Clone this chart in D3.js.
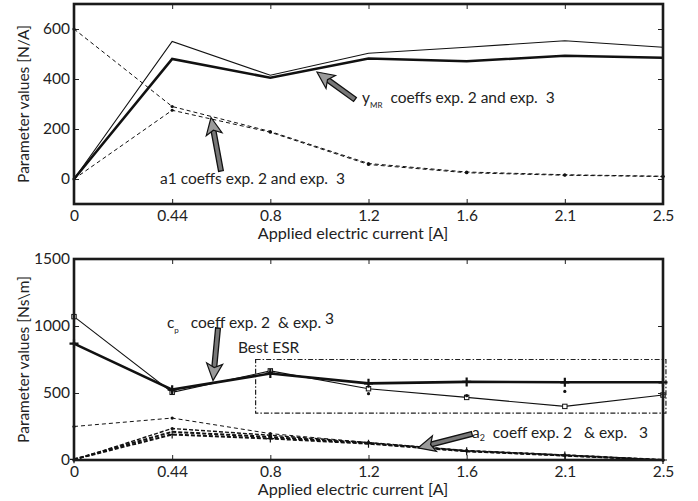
<!DOCTYPE html>
<html>
<head>
<meta charset="utf-8">
<script src="https://cdn.jsdelivr.net/npm/d3@7"></script>
<style>
  html, body { margin: 0; padding: 0; background: #fff; }
  svg { display: block; font-family: Lato, "Open Sans", sans-serif; }
  text { white-space: pre; }
</style>
</head>
<body>
<svg id="chart" width="698" height="501"></svg>
<script>
// Applied current levels (evenly spaced categories on the x axis)
const currents = ["0", "0.44", "0.8", "1.2", "1.6", "2.1", "2.5"];

// Upper panel: MR force coefficient and a1 coefficient [N/A]
const yMrExp2 = [0, 550, 415, 503, 527, 553, 527];
const yMrExp3 = [0, 480, 405, 482, 471, 493, 485];
const a1Exp2 = [600, 290, 190, 62, 28, 17, 11];
const a1Exp3 = [0, 275, 187, 58, 25, 15, 10];
const topTicks = [0, 200, 400, 600];

// Lower panel: damping coefficient c_p and a2 coefficient [Ns\m]
const cpExp2 = [1070, 505, 665, 532, 467, 400, 485];
const cpExp3 = [868, 525, 645, 572, 583, 580, 580];
const cpPoints = [870, 515, 655, 495, 480, 512, 490];
const a2Exp2 = [250, 313, 197, 130, 68, 35, 0];
const a2Exp3a = [5, 190, 160, 122, 65, 33, 0];
const a2Exp3b = [5, 210, 172, 126, 67, 35, 0];
const a2Exp3c = [0, 235, 185, 130, 70, 38, 0];
const bottomTicks = [0, 500, 1000, 1500];

// "Best ESR" region: category-index span and value span
const esrIndexSpan = [1.85, 6.03];
const esrValueSpan = [350, 750];

const svg = d3.select("#chart");
const left = 74, right = 663;
const labelSize = 15.5, noteSize = 15.5;

const x = d3.scalePoint().domain(currents).range([left, right]);
const xi = d3.scaleLinear().domain([0, currents.length - 1]).range([left, right]);

function panel(top, bottom, domain, ticks, yTitle) {
  const y = d3.scaleLinear().domain(domain).range([bottom, top]);
  const g = svg.append("g");
  const tick = 5;

  g.append("g").attr("transform", `translate(0,${bottom})`)
    .call(d3.axisBottom(x).tickSizeInner(-tick).tickSizeOuter(0).tickPadding(6))
    .call(a => a.select(".domain").remove())
    .call(a => a.selectAll("text").attr("font-size", labelSize).attr("fill", "#222").attr("font-family", "Lato"));
  g.append("g").attr("transform", `translate(0,${top})`)
    .call(d3.axisTop(x).tickSizeInner(-tick).tickSizeOuter(0).tickFormat(""))
    .call(a => a.select(".domain").remove());
  g.append("g").attr("transform", `translate(${left},0)`)
    .call(d3.axisLeft(y).tickValues(ticks).tickFormat(d3.format("d"))
      .tickSizeInner(-tick).tickSizeOuter(0).tickPadding(4))
    .call(a => a.select(".domain").remove())
    .call(a => a.selectAll("text").attr("font-size", labelSize).attr("fill", "#222").attr("font-family", "Lato"));
  g.append("g").attr("transform", `translate(${right},0)`)
    .call(d3.axisRight(y).tickValues(ticks).tickSizeInner(-tick).tickSizeOuter(0).tickFormat(""))
    .call(a => a.select(".domain").remove());
  g.selectAll(".tick line").attr("stroke", "#222").attr("stroke-width", 1);

  g.append("text")
    .attr("transform", `translate(29,${(top + bottom) / 2}) rotate(-90)`)
    .attr("text-anchor", "middle").attr("font-size", 15.5).attr("fill", "#222")
    .text(yTitle);
  g.append("text")
    .attr("x", 353).attr("y", bottom + 35)
    .attr("text-anchor", "middle").attr("font-size", 16.2).attr("fill", "#222")
    .text("Applied electric current [A]");
  return { y, g };
}

function frame(top, bottom) {
  svg.append("rect")
    .attr("x", left).attr("y", top).attr("width", right - left).attr("height", bottom - top)
    .attr("fill", "none").attr("stroke", "#1a1a1a").attr("stroke-width", 2.6);
}

function series(g, y, values, opts) {
  const line = d3.line().x((d, i) => x(currents[i])).y(d => y(d));
  g.append("path").datum(values)
    .attr("d", line).attr("fill", "none")
    .attr("stroke", "#111").attr("stroke-width", opts.width)
    .attr("stroke-dasharray", opts.dash || null)
    .attr("stroke-linejoin", "miter");
  if (opts.marker === "dot") {
    g.selectAll(null).data(values).join("circle")
      .attr("cx", (d, i) => x(currents[i])).attr("cy", d => y(d)).attr("r", 1.6).attr("fill", "#111");
  } else if (opts.marker === "square") {
    g.selectAll(null).data(values).join("rect")
      .attr("x", (d, i) => x(currents[i]) - 2.2).attr("y", d => y(d) - 2.2)
      .attr("width", 4.4).attr("height", 4.4).attr("fill", "#fff").attr("stroke", "#111").attr("stroke-width", 1);
  } else if (opts.marker === "plus") {
    const s = opts.size || 4;
    g.selectAll(null).data(values).join("path")
      .attr("d", (d, i) => {
        const cx = x(currents[i]), cy = y(d);
        return `M${cx - s},${cy}H${cx + s}M${cx},${cy - s}V${cy + s}`;
      })
      .attr("stroke", "#111").attr("stroke-width", opts.markerWidth || 2);
  }
}

// Outlined annotation arrow from tail to tip
function arrow(g, x1, y1, x2, y2) {
  const dx = x2 - x1, dy = y2 - y1, len = Math.hypot(dx, dy);
  const ux = dx / len, uy = dy / len, nx = -uy, ny = ux;
  const headLen = 17, headHalf = 8, notch = 4, shaftHalf = 2.4;
  const bx = x2 - ux * headLen, by = y2 - uy * headLen;
  const nxp = x2 - ux * (headLen - notch), nyp = y2 - uy * (headLen - notch);
  g.append("path")
    .attr("d", `M${x1 + nx * shaftHalf},${y1 + ny * shaftHalf}L${nxp + nx * shaftHalf},${nyp + ny * shaftHalf}` +
      `L${nxp - nx * shaftHalf},${nyp - ny * shaftHalf}L${x1 - nx * shaftHalf},${y1 - ny * shaftHalf}Z`)
    .attr("fill", "#777").attr("stroke", "#111").attr("stroke-width", 1.3);
  g.append("path")
    .attr("d", `M${x2},${y2}L${bx + nx * headHalf},${by + ny * headHalf}L${nxp},${nyp}` +
      `L${bx - nx * headHalf},${by - ny * headHalf}Z`)
    .attr("fill", "#9a9a9a").attr("stroke", "#111").attr("stroke-width", 1.2).attr("stroke-linejoin", "miter");
}

// ---------- Upper panel ----------
const P1 = panel(4, 204, [-100, 700], topTicks, "Parameter values [N/A]");
series(P1.g, P1.y, a1Exp2, { width: 1, dash: "4,3", marker: "dot" });
series(P1.g, P1.y, a1Exp3, { width: 1, dash: "4,3", marker: "dot" });
series(P1.g, P1.y, yMrExp2, { width: 1.1 });
series(P1.g, P1.y, yMrExp3, { width: 2.6 });
frame(4, 204);

arrow(P1.g, xi(2.862), P1.y(318), xi(2.475), P1.y(428));
const t1 = P1.g.append("text").attr("x", xi(2.934)).attr("y", P1.y(306)).attr("font-size", noteSize).attr("fill", "#222");
t1.append("tspan").text("y");
t1.append("tspan").attr("font-size", 8).attr("dy", 5).text("MR");
t1.append("tspan").attr("dy", -5).text("  coeffs exp. 2 and exp.  3");

arrow(P1.g, xi(1.497), P1.y(32), xi(1.396), P1.y(246));
P1.g.append("text").attr("x", xi(0.876)).attr("y", P1.y(-20)).attr("font-size", noteSize).attr("fill", "#222")
  .text("a1 coeffs exp. 2 and exp.  3");

// ---------- Lower panel ----------
const P2 = panel(259, 460, [0, 1500], bottomTicks, "Parameter values [Ns\\m]");

P2.g.append("rect")
  .attr("x", xi(esrIndexSpan[0])).attr("y", P2.y(esrValueSpan[1]))
  .attr("width", xi(esrIndexSpan[1]) - xi(esrIndexSpan[0]))
  .attr("height", P2.y(esrValueSpan[0]) - P2.y(esrValueSpan[1]))
  .attr("fill", "none").attr("stroke", "#222").attr("stroke-width", 1.2)
  .attr("stroke-dasharray", "5,2,1.5,2");

series(P2.g, P2.y, a2Exp2, { width: 1, dash: "4,3", marker: "dot" });
series(P2.g, P2.y, a2Exp3a, { width: 2, dash: "4,2", marker: "plus", size: 4, markerWidth: 1.2 });
series(P2.g, P2.y, a2Exp3b, { width: 2, dash: "4,2" });
series(P2.g, P2.y, a2Exp3c, { width: 1.4, dash: "4,2", marker: "dot" });
series(P2.g, P2.y, cpExp2, { width: 1.1, marker: "square" });
series(P2.g, P2.y, cpExp3, { width: 2.6, marker: "plus", size: 4.5, markerWidth: 2.2 });
P2.g.selectAll(null).data(cpPoints).join("circle")
  .attr("cx", (d, i) => x(currents[i])).attr("cy", d => P2.y(d)).attr("r", 1.6).attr("fill", "#111");
frame(259, 460);

arrow(P2.g, xi(1.467), P2.y(985), xi(1.416), P2.y(593));
const t2 = P2.g.append("text").attr("x", xi(0.947)).attr("y", P2.y(985)).attr("font-size", noteSize).attr("fill", "#222");
t2.append("tspan").text("c");
t2.append("tspan").attr("font-size", 8).attr("dy", 5).text("p");
t2.append("tspan").attr("dy", -5).text("   coeff exp. 2  & exp. ");
t2.append("tspan").attr("dy", -4).text("3");
P2.g.append("text").attr("x", xi(1.67)).attr("y", P2.y(795)).attr("font-size", noteSize).attr("fill", "#222")
  .text("Best ESR");

arrow(P2.g, xi(4.054), P2.y(195), xi(3.504), P2.y(90));
const t3 = P2.g.append("text").attr("x", xi(4.054)).attr("y", P2.y(165)).attr("font-size", noteSize).attr("fill", "#222");
t3.append("tspan").text("a");
t3.append("tspan").attr("font-size", 9).attr("dy", 3).text("2");
t3.append("tspan").attr("dy", -3).text("  coeff exp. 2   & exp.   3");
</script>
</body>
</html>
